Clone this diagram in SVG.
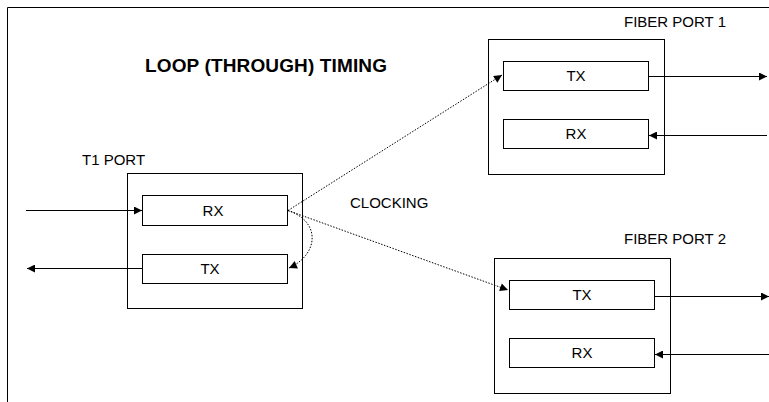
<svg xmlns="http://www.w3.org/2000/svg" width="769" height="402" viewBox="0 0 769 402">
<defs>
<marker id="ah" viewBox="0 0 10 10" refX="10" refY="5" markerWidth="9" markerHeight="8" markerUnits="userSpaceOnUse" orient="auto"><path d="M0,0 L10,5 L0,10 z" fill="#000"/></marker>
<style>
.box{fill:#fff;stroke:#000;stroke-width:1}
.t{font-family:"Liberation Sans",Arial,sans-serif;font-size:15px;fill:#000}
.c{text-anchor:middle}
.ln{fill:none;stroke:#000;stroke-width:1;marker-end:url(#ah)}
.dot{fill:none;stroke:#000;stroke-width:1;stroke-dasharray:1.5,1.5;marker-end:url(#ah)}
</style>
</defs>
<rect width="769" height="402" fill="#fff"/>
<path d="M7.5,402 V7.5 H769" fill="none" stroke="#000" stroke-width="1"/>
<text x="145" y="72" style="font-family:'Liberation Sans',Arial,sans-serif;font-size:19px;font-weight:bold" textLength="242">LOOP (THROUGH) TIMING</text>
<g id="t1port">
<text class="t" x="82" y="165">T1 PORT</text>
<rect class="box" x="127.5" y="173.5" width="175" height="135"/>
<g id="t1rx"><rect class="box" x="142.5" y="195.5" width="145" height="30"/><text class="t c" x="213" y="216">RX</text></g>
<g id="t1tx"><rect class="box" x="142.5" y="254.5" width="145" height="29"/><text class="t c" x="210" y="274">TX</text></g>
</g>
<g id="fiber1">
<text class="t" x="624" y="27">FIBER PORT 1</text>
<rect class="box" x="488.5" y="39.5" width="176" height="135"/>
<g id="f1tx"><rect class="box" x="503.5" y="61.5" width="145" height="29"/><text class="t c" x="576" y="81">TX</text></g>
<g id="f1rx"><rect class="box" x="503.5" y="119.5" width="145" height="29"/><text class="t c" x="576" y="139">RX</text></g>
</g>
<g id="fiber2">
<text class="t" x="624" y="244">FIBER PORT 2</text>
<rect class="box" x="494.5" y="258.5" width="176" height="135"/>
<g id="f2tx"><rect class="box" x="509.5" y="280.5" width="145" height="29"/><text class="t c" x="582" y="300">TX</text></g>
<g id="f2rx"><rect class="box" x="509.5" y="338.5" width="145" height="29"/><text class="t c" x="582" y="358">RX</text></g>
</g>
<text class="t" x="350" y="208">CLOCKING</text>
<g id="connectors">
<line class="ln" x1="26" y1="210.5" x2="142" y2="210.5"/>
<line class="ln" x1="142" y1="268.5" x2="27" y2="268.5"/>
<line class="ln" x1="649" y1="76.5" x2="767" y2="76.5"/>
<line class="ln" x1="767" y1="135.5" x2="649" y2="135.5"/>
<line class="ln" x1="655" y1="296.5" x2="769" y2="296.5"/>
<line class="ln" x1="769" y1="354.5" x2="655" y2="354.5"/>
<line class="dot" x1="288" y1="210.5" x2="502" y2="75"/>
<line class="dot" x1="288" y1="210.5" x2="508" y2="290"/>
<path class="dot" d="M288,210.5 C322,222 318,255 289,268"/>
</g>
</svg>
